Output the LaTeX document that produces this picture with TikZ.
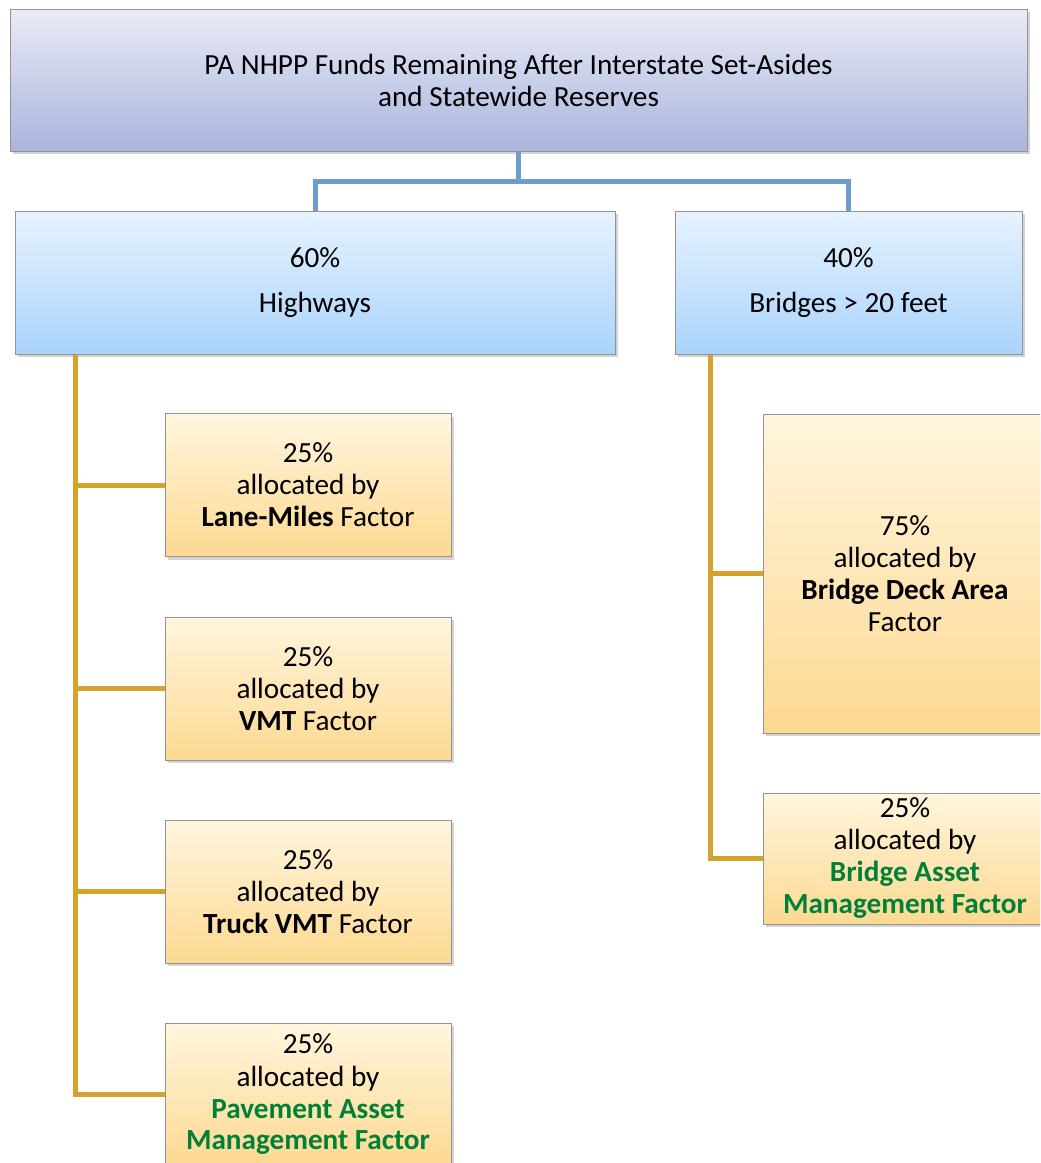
\documentclass[tikz,border=0pt]{standalone}
\usepackage{fontspec}
\setmainfont{Carlito}
\usetikzlibrary{shadows,calc}
\definecolor{lavtop}{RGB}{234,235,246}
\definecolor{lavbot}{RGB}{170,180,221}
\definecolor{skytop}{RGB}{231,243,255}
\definecolor{skybot}{RGB}{170,211,252}
\definecolor{sandtop}{RGB}{255,245,222}
\definecolor{sandbot}{RGB}{253,217,145}
\definecolor{bluelink}{RGB}{110,156,203}
\definecolor{goldlink}{RGB}{213,162,46}
\definecolor{factgreen}{RGB}{0,128,56}
\newcommand{\grn}[1]{\textcolor{factgreen}{\textbf{#1}}}

\begin{document}
\begin{tikzpicture}[x=0.5pt,y=-0.5pt,
		box/.style={draw=gray!85, line width=0.5pt, align=center, inner sep=0pt,
			drop shadow={shadow xshift=1.5pt,shadow yshift=-1.5pt,opacity=0.35},
			font=\fontsize{14.6}{16}\selectfont},
		fundbox/.style={box, top color=lavtop, bottom color=lavbot},
		splitbox/.style={box, top color=skytop, bottom color=skybot, minimum height=71.5pt},
		factbox/.style={box, top color=sandtop, bottom color=sandbot, minimum width=143pt, minimum height=71.5pt},
		bluelink/.style={draw=bluelink, line width=2.5pt},
		goldlink/.style={draw=goldlink, line width=2.5pt}]
			\useasboundingbox (0,0) rectangle (1040,1163);
			\clip (0,0) rectangle (1040,1163);
			% top level
			\node[fundbox, minimum width=508.5pt, minimum height=71pt] (funds) at (518.5,80) {PA NHPP Funds Remaining After Interstate Set-Asides\\and Statewide Reserves};
			% split
			\node[splitbox, minimum width=300pt] (hwy) at (315,282.5) {60\%\\[6.5pt]Highways};
			\node[splitbox, minimum width=173.5pt] (brg) at (848.5,282.5) {40\%\\[6.5pt]Bridges > 20 feet};
			% highway factors
			\node[factbox] (lane) at (308,485) {25\%\\allocated by\\\textbf{Lane-Miles} Factor};
			\node[factbox] (vmt) at (308,688.5) {25\%\\allocated by\\\textbf{VMT} Factor};
			\node[factbox] (truck) at (308,891.5) {25\%\\allocated by\\\textbf{Truck VMT} Factor};
			\node[factbox] (pave) at (308,1094.5) {25\%\\allocated by\\\grn{Pavement Asset}\\\grn{Management Factor}};
			% bridge factors
			\node[factbox, minimum width=142pt, minimum height=159.5pt] (deck) at (905,573.5) {75\%\\allocated by\\\textbf{Bridge Deck Area}\\Factor};
			\node[factbox, minimum width=142pt, minimum height=65.5pt] (bam) at (905,858.5) {25\%\\allocated by\\\grn{Bridge Asset}\\\grn{Management Factor}};
			% connectors
			\draw[bluelink] (funds.south) -- ++(0,30) coordinate (fork) -| (hwy.north);
			\draw[bluelink] (fork) -| (brg.north);
			\coordinate (spineH) at ($(hwy.south west)+(61,0)$);
			\coordinate (spineB) at ($(brg.south west)+(36,0)$);
			\draw[goldlink] (spineH) |- (pave.west);
			\draw[goldlink] (lane.west) -- (lane.west -| spineH);
			\draw[goldlink] (vmt.west) -- (vmt.west -| spineH);
			\draw[goldlink] (truck.west) -- (truck.west -| spineH);
			\draw[goldlink] (spineB) |- (bam.west);
			\draw[goldlink] (deck.west) -- (deck.west -| spineB);
		\end{tikzpicture}
\end{document}
